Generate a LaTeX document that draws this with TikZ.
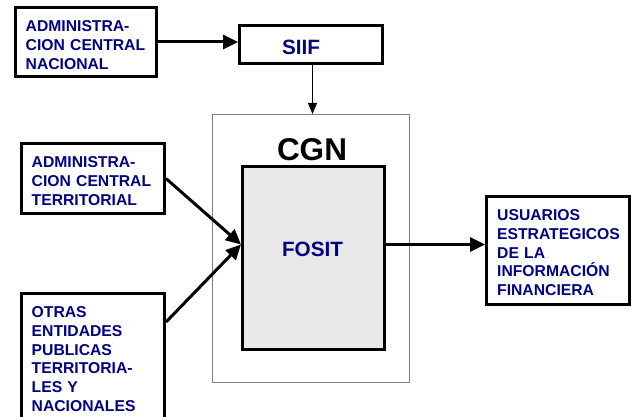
\documentclass[tikz,border=0pt]{standalone}
\usepackage{fontspec}
\setmainfont{Liberation Sans}
\usepackage{tikz}
\usetikzlibrary{
  arrows.meta,
  positioning,
  calc
}
\definecolor{NavyText}{RGB}{0, 0, 128}
\definecolor{FositGray}{RGB}{232, 232, 232}
\definecolor{FrameGray}{RGB}{128, 128, 128}
\tikzset{
  boxnode/.style={draw=black, line width=3pt, inner sep=0pt, anchor=north west},
  boxtext/.style={anchor=base west, inner sep=0pt, text width=135pt, align=left,
    text=NavyText, font=\fontsize{15.7}{18.8}\selectfont\bfseries},
  bigarrow/.style={line width=3pt, -{Triangle[length=15pt,width=14pt]}},
  thinarrow/.style={line width=1pt, -{Triangle[length=11pt,width=9pt]}}
}

\begin{document}
\begin{tikzpicture}[x=1pt, y=1pt]
  \useasboundingbox (0,0) rectangle (633,416);
  \clip (0,0) rectangle (633,416);

  \node[boxnode, minimum width=141pt, minimum height=69pt] (boxA) at (14,410) {};
  \node[boxtext] (txtA) at ($(boxA.north west)+(11.5,-25.5)$) {ADMINISTRA-\\CION CENTRAL\\NACIONAL};

  \node[boxnode, minimum width=143pt, minimum height=38pt] (siif) at (238,392) {};
  \node[text=NavyText, font=\fontsize{20.7}{24}\selectfont\bfseries, inner sep=0pt] (siiflbl) at (301,369) {SIIF};

  \node[boxnode, draw=FrameGray, line width=1pt, minimum width=197pt, minimum height=268pt] (cgn) at (212,302) {};
  \node[font=\fontsize{31.5}{36}\selectfont\bfseries, inner sep=0pt] (cgnlbl) at (312,266) {CGN};

  \node[boxnode, fill=FositGray, minimum width=142pt, minimum height=183pt] (fosit) at (241,251) {};
  \node[text=NavyText, font=\fontsize{20.7}{24}\selectfont\bfseries, inner sep=0pt] (fositlbl) at (312.5,167) {FOSIT};

  \node[boxnode, minimum width=143pt, minimum height=70pt] (boxB) at (20,274) {};
  \node[boxtext] (txtB) at ($(boxB.north west)+(11.5,-25.5)$) {ADMINISTRA-\\CION CENTRAL\\TERRITORIAL};

  \node[boxnode, minimum width=143pt, minimum height=140pt] (boxC) at (20,124) {};
  \node[boxtext] (txtC) at ($(boxC.north west)+(11.5,-25.5)$) {OTRAS\\ENTIDADES\\PUBLICAS\\TERRITORIA-\\LES Y\\NACIONALES};

  \node[boxnode, minimum width=143pt, minimum height=108pt] (boxD) at (485,221) {};
  \node[boxtext] (txtD) at ($(boxD.north west)+(12,-25.5)$) {USUARIOS\\ESTRATEGICOS\\DE LA\\INFORMACIÓN\\FINANCIERA};

  \coordinate (fositin) at ($(fosit.north west)+(0,-79.5)$);
  \coordinate (cstart) at ($(boxC.north east)+(0,-30)$);

  \draw[bigarrow] (boxA.east) -- (boxA.east -| siif.west);
  \draw[thinarrow] (siif.south -| fositlbl) -- (cgn.north -| fositlbl);
  \draw[bigarrow] (boxB.east) -- (fositin);
  \draw[bigarrow] (cstart) -- (fositin);
  \draw[bigarrow] (fositin -| fosit.east) -- (fositin -| boxD.west);
\end{tikzpicture}
\end{document}
